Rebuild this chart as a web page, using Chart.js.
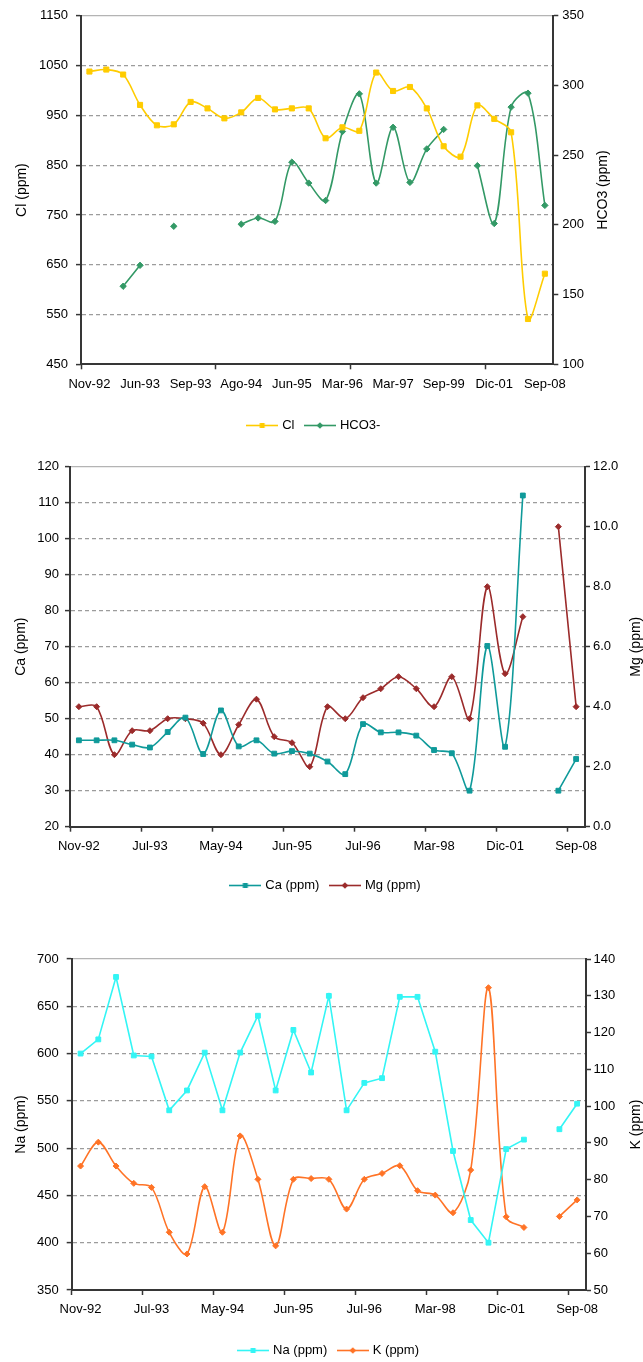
<!DOCTYPE html>
<html>
<head>
<meta charset="utf-8">
<script src="https://cdn.jsdelivr.net/npm/chart.js@4/dist/chart.umd.min.js"></script>
<style>
  html, body { margin: 0; padding: 0; background: #fff; }
  #page { position: relative; width: 643px; height: 1362px; overflow: hidden; background: #fff; }
  canvas { position: absolute; left: 0; }
</style>
</head>
<body>
<div id="page">
  <canvas id="chartClHco3" width="643" height="442" style="top:0px"></canvas>
  <canvas id="chartCaMg" width="643" height="457" style="top:445px"></canvas>
  <canvas id="chartNaK" width="643" height="462" style="top:905px"></canvas>
</div>
<script>
// ---- Sampling dates (only every few dates is printed on the axis) ----
const clDates = ['Nov-92', '', '', 'Jun-93', '', '', 'Sep-93', '', '', 'Ago-94', '', '',
  'Jun-95', '', '', 'Mar-96', '', '', 'Mar-97', '', '', 'Sep-99', '', '', 'Dic-01', '', '', 'Sep-08'];
const ionDates = ['Nov-92', '', '', '', 'Jul-93', '', '', '', 'May-94', '', '', '', 'Jun-95', '', '', '',
  'Jul-96', '', '', '', 'Mar-98', '', '', '', 'Dic-01', '', '', '', 'Sep-08'];

// ---- Chloride and bicarbonate (ppm) ----
const clValues = [1038, 1042, 1032, 971, 930, 932, 977, 964, 944, 956, 985, 962, 964, 964,
  904, 926, 919, 1036, 999, 1007, 964, 888, 867, 970, 943, 916, 541, 632];
const hco3Values = [null, null, 156, 171, null, 199, null, null, null, 200.5, 205, 202.5, 245, 230,
  217.5, 267, 294, 230, 270, 230.5, 254.5, 268.5, null, 242.5, 201, 284.5, 294.5, 214];

// ---- Calcium and magnesium (ppm) ----
const caValues = [44, 44, 44, 42.8, 42, 46.3, 50.3, 40.2, 52.3, 42.3, 44, 40.3, 41, 40.3,
  38.1, 34.6, 48.5, 46.2, 46.2, 45.3, 41.3, 40.4, 30, 70.2, 42.2, 112, null, 30, 38.8];
const mgValues = [4.0, 4.0, 2.4, 3.2, 3.2, 3.6, 3.6, 3.45, 2.4, 3.4, 4.25, 3.0, 2.8, 2.0,
  4.0, 3.6, 4.3, 4.6, 5.0, 4.6, 4.0, 5.0, 3.6, 8.0, 5.1, 7.0, null, 10.0, 4.0];

// ---- Sodium and potassium (ppm) ----
const naValues = [600, 615, 681, 598, 597, 540, 561, 601, 540, 601, 640, 561, 625, 580,
  661, 540, 569, 574, 660, 660, 602, 497, 424, 400, 499, 509, null, 520, 547];
const kValues = [83.7, 90.2, 83.7, 79, 77.9, 65.7, 59.8, 78.1, 65.7, 91.9, 80.1, 62, 80.1, 80.3,
  80.1, 72, 80.1, 81.7, 83.8, 77, 75.8, 71, 82.6, 132.2, 69.9, 67, null, 70, 74.5];

// ---- Axis ranges ----
const clAxis = { min: 450, max: 1150, step: 100 };
const hco3Axis = { min: 100, max: 350, step: 50 };
const caAxis = { min: 20, max: 120, step: 10 };
const mgAxis = { min: 0, max: 12, step: 2 };
const naAxis = { min: 350, max: 700, step: 50 };
const kAxis = { min: 50, max: 140, step: 10 };

// ---- Shared look ----
const FONT = '"Liberation Sans", Arial, Helvetica, sans-serif';
Chart.defaults.font.family = FONT;
Chart.defaults.font.size = 13;
Chart.defaults.color = '#000';

const AXIS_COLOR = '#363636';
const GRID_COLOR = '#9c9c9c';
const TOP_COLOR = '#b4b4b4';
const CLEAR = 'rgba(0,0,0,0)';

// Small line-plus-marker swatch used as the legend symbol
function legendSwatch(color, marker) {
  const c = document.createElement('canvas');
  c.width = 32; c.height = 9;
  const g = c.getContext('2d');
  g.strokeStyle = color; g.lineWidth = 1.6;
  g.beginPath(); g.moveTo(0, 4.5); g.lineTo(32, 4.5); g.stroke();
  g.fillStyle = color;
  if (marker === 'rect') {
    g.fillRect(13.5, 2, 5, 5);
  } else {
    g.beginPath(); g.moveTo(16, 1.2); g.lineTo(19.3, 4.5); g.lineTo(16, 7.8); g.lineTo(12.7, 4.5);
    g.closePath(); g.fill();
  }
  return c;
}

// Rotated axis titles, both read from bottom to top
const axisTitles = {
  id: 'axisTitles',
  afterDraw(chart, args, opts) {
    const { ctx, chartArea } = chart;
    const yMid = (chartArea.top + chartArea.bottom) / 2;
    ctx.save();
    ctx.font = opts.size + 'px ' + FONT;
    ctx.fillStyle = '#000';
    ctx.textAlign = 'center';
    ctx.textBaseline = 'middle';
    for (const t of opts.items) {
      ctx.save();
      ctx.translate(t.x, yMid);
      ctx.rotate(-Math.PI / 2);
      ctx.fillText(t.text, 0, 0);
      ctx.restore();
    }
    ctx.restore();
  }
};

function series(label, data, axisId, color, marker, radius, tension) {
  return {
    label, data, yAxisID: axisId,
    borderColor: color, backgroundColor: color,
    borderWidth: 1.6,
    pointStyle: marker, pointRadius: radius, pointHoverRadius: radius,
    pointBackgroundColor: color, pointBorderColor: color, pointBorderWidth: 1,
    tension, cubicInterpolationMode: 'default',
    spanGaps: false, fill: false,
    legendMarker: marker
  };
}

function leftAxis(range, width, pad) {
  return {
    type: 'linear', position: 'left',
    min: range.min, max: range.max,
    ticks: { stepSize: range.step, padding: pad, font: { size: 13 }, color: '#000',
      callback: v => String(v) },
    grid: {
      lineWidth: 1.2,
      color: ctx => {
        if (!ctx.tick) return CLEAR;
        if (ctx.tick.value >= ctx.scale.max) return TOP_COLOR;
        if (ctx.tick.value <= ctx.scale.min) return CLEAR;
        return GRID_COLOR;
      },
      tickColor: AXIS_COLOR, tickWidth: 1.5, tickLength: 5
    },
    border: {
      color: AXIS_COLOR, width: 2,
      dash: ctx => (ctx.tick && ctx.tick.value < ctx.scale.max) ? [4, 3] : []
    },
    afterFit: s => { s.width = width; }
  };
}

function rightAxis(range, width, pad, oneDecimal) {
  return {
    type: 'linear', position: 'right',
    min: range.min, max: range.max,
    ticks: { stepSize: range.step, padding: pad, font: { size: 13 }, color: '#000',
      callback: v => oneDecimal ? v.toFixed(1) : String(v) },
    grid: { drawOnChartArea: false, tickColor: AXIS_COLOR, tickWidth: 1.5, tickLength: 5 },
    border: { color: AXIS_COLOR, width: 2 },
    afterFit: s => { s.width = width; }
  };
}

function dateAxis(markEvery, height) {
  return {
    type: 'category', offset: true,
    ticks: { autoSkip: false, maxRotation: 0, minRotation: 0, padding: 7, font: { size: 13 }, color: '#000' },
    grid: {
      offset: true, drawOnChartArea: false, tickLength: 5, tickWidth: 1.5,
      tickColor: ctx => (ctx.index !== undefined && ctx.index % markEvery === 0) ? AXIS_COLOR : CLEAR
    },
    border: { color: AXIS_COLOR, width: 2 },
    afterFit: s => { s.height = height; }
  };
}

function legendOptions() {
  return {
    display: true, position: 'bottom', align: 'center',
    labels: {
      usePointStyle: true, pointStyleWidth: 27, padding: 12,
      font: { size: 13 }, color: '#000',
      generateLabels: chart => chart.data.datasets.map((ds, i) => ({
        text: ds.label,
        pointStyle: legendSwatch(ds.borderColor, ds.legendMarker),
        fillStyle: ds.borderColor, strokeStyle: ds.borderColor, lineWidth: 0,
        fontColor: '#000', hidden: false, datasetIndex: i
      }))
    }
  };
}

function buildChart(id, cfg) {
  return new Chart(document.getElementById(id), {
    type: 'line',
    data: { labels: cfg.labels, datasets: cfg.datasets },
    options: {
      responsive: false, animation: false, events: [],
      layout: { padding: cfg.padding },
      plugins: {
        legend: legendOptions(),
        tooltip: { enabled: false },
        axisTitles: { size: 14, items: cfg.titles }
      },
      scales: cfg.scales
    },
    plugins: [axisTitles]
  });
}

// ---- Cl / HCO3- ----
buildChart('chartClHco3', {
  labels: clDates,
  datasets: [
    series('Cl', clValues, 'y', '#ffcc00', 'rect', 3.6, 0.33),
    series('HCO3-', hco3Values, 'y1', '#339966', 'rectRot', 3.2, 0.33)
  ],
  padding: { top: 14.7, left: 0, right: 14, bottom: 0 },
  titles: [{ text: 'Cl (ppm)', x: 22 }, { text: 'HCO3 (ppm)', x: 603.5 }],
  scales: {
    x: dateAxis(8, 42.7),
    y: leftAxis(clAxis, 81, 8),
    y1: rightAxis(hco3Axis, 75.7, 4, false)
  }
});

// ---- Ca / Mg ----
buildChart('chartCaMg', {
  labels: ionDates,
  datasets: [
    series('Ca (ppm)', caValues, 'y', '#0f9a9a', 'rect', 3.4, 0.33),
    series('Mg (ppm)', mgValues, 'y1', '#9b2b2b', 'rectRot', 3, 0.33)
  ],
  padding: { top: 21.7, left: 9.3, right: 0, bottom: 0 },
  titles: [{ text: 'Ca (ppm)', x: 21.2 }, { text: 'Mg (ppm)', x: 635.7 }],
  scales: {
    x: dateAxis(4, 40.3),
    y: leftAxis(caAxis, 60.7, 6),
    y1: rightAxis(mgAxis, 58, 3, true)
  }
});

// ---- Na / K ----
buildChart('chartNaK', {
  labels: ionDates,
  datasets: [
    series('Na (ppm)', naValues, 'y', '#33f5f5', 'rect', 3.4, 0),
    series('K (ppm)', kValues, 'y1', '#ff7326', 'rectRot', 3, 0.33)
  ],
  padding: { top: 54, left: 15.6, right: 0, bottom: 0 },
  titles: [{ text: 'Na (ppm)', x: 21.2 }, { text: 'K (ppm)', x: 635.7 }],
  scales: {
    x: dateAxis(4, 42),
    y: leftAxis(naAxis, 56.1, 8),
    y1: rightAxis(kAxis, 57, 2.5, false)
  }
});
</script>
</body>
</html>
